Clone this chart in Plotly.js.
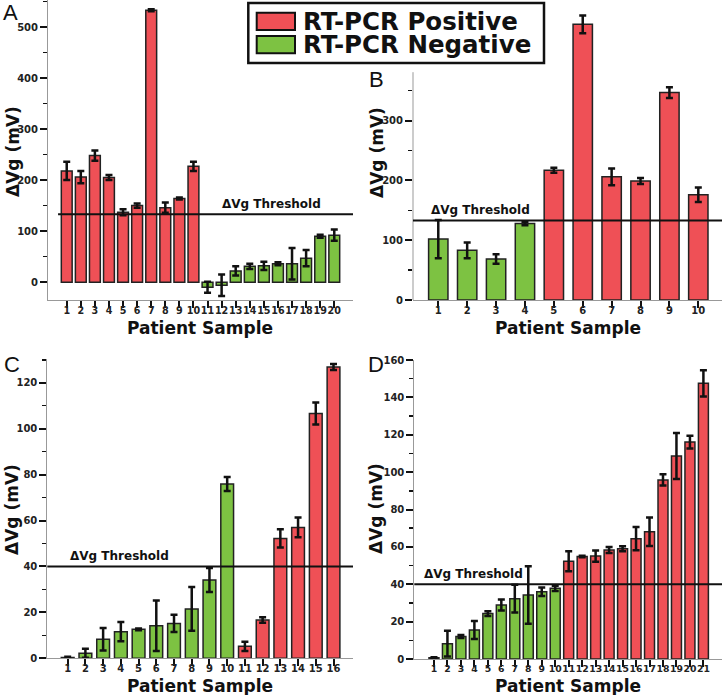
<!DOCTYPE html>
<html><head><meta charset="utf-8">
<script src="https://cdn.plot.ly/plotly-3.0.1.min.js"></script>
<style>html,body{margin:0;padding:0;background:#fff}</style>
</head><body><div id="chart" style="width:722px;height:695px"></div>
<script>
// ---------- data ----------
const groupNames = ['RT-PCR Positive', 'RT-PCR Negative'];
const groupColors = ['#EF5056', '#7DC242'];

const samplesA = [1,2,3,4,5,6,7,8,9,10,11,12,13,14,15,16,17,18,19,20];
const valuesA  = [218,206,248,205,137,150,533,146,164,227,-10,-6,22,31,32,36,36,47,90,92];
const errorsA  = [18,12,10,5,6,4,2,10,2,9,11,21,9,5,8,3,31,16,3,11];
const groupA   = [0,0,0,0,0,0,0,0,0,0,1,1,1,1,1,1,1,1,1,1];
const thresholdA = 133;

const samplesB = [1,2,3,4,5,6,7,8,9,10];
const valuesB  = [102,83,68.5,128,217,461,206,199,347,176];
const errorsB  = [32,13,8,3,4,15,14,5,9,12];
const groupB   = [1,1,1,1,0,0,0,0,0,0];
const thresholdB = 133;

const samplesC = [1,2,3,4,5,6,7,8,9,10,11,12,13,14,15,16];
const valuesC  = [0.4,2.2,8.3,11.6,12.6,14.2,15.2,21.5,34.1,75.9,5.2,16.7,52.2,57,106.6,126.8];
const errorsC  = [0.3,2,4.9,4.2,0.4,11,3.8,9.5,5.2,3,2,1.2,4,4.3,4.8,1.3];
const groupC   = [1,1,1,1,1,1,1,1,1,1,0,0,0,0,0,0];
const thresholdC = 40;

const samplesD = [1,2,3,4,5,6,7,8,9,10,11,12,13,14,15,16,17,18,19,20,21];
const valuesD  = [0.7,8.2,12.1,15.5,24.3,28.9,32.3,34.2,36,37.8,52.3,54.8,55.1,58.3,59,64.4,68.1,95.8,108.6,116.1,147.5];
const errorsD  = [0.3,6.9,0.8,4.8,1.3,3,7.4,15.4,2.3,1.4,5.3,0.4,3,1.6,1.3,6.2,7.6,3,12.3,3.4,7];
const groupD   = [1,1,1,1,1,1,1,1,1,1,0,0,0,0,0,0,0,0,0,0,0];
const thresholdD = 40;

const yTicksA = [0,100,200,300,400,500], yMinorA = [50,150,250,350,450,550];
const yTicksB = [0,100,200,300],         yMinorB = [50,150,250,350];
const yTicksC = [0,20,40,60,80,100,120], yMinorC = [10,30,50,70,90,110,130];
const yTicksD = [0,20,40,60,80,100,120,140,160], yMinorD = [10,30,50,70,90,110,130,150];

const thresholdLabel = 'ΔVg Threshold';
const yTitle = 'ΔVg (mV)';
const xTitle = 'Patient Sample';
const panelLetters = ['A','B','C','D'];

// ---------- styling ----------
const W = 722, H = 695;
const FONT = 'DejaVu Sans, Verdana, sans-serif';
const px = v => v / W;
const py = v => 1 - v / H;

function barTrace(x, y, e, g, xa, ya, width) {
  return {
    type: 'bar', x: x, y: y, xaxis: xa, yaxis: ya, width: width,
    marker: {color: g.map(i => groupColors[i]), line: {color: '#222', width: 1.5}},
    error_y: {type: 'data', array: e, visible: true, color: '#111', thickness: 2.5, width: 3.5},
    showlegend: false, hoverinfo: 'skip'
  };
}

const traces = [
  barTrace(samplesA, valuesA, errorsA, groupA, 'x', 'y', 0.77),
  barTrace(samplesB, valuesB, errorsB, groupB, 'x2', 'y2', 0.67),
  barTrace(samplesC, valuesC, errorsC, groupC, 'x3', 'y3', 0.72),
  barTrace(samplesD, valuesD, errorsD, groupD, 'x4', 'y4', 0.74)
];

function tickFont(sz) { return {family: FONT, size: sz, color: '#222', weight: 'bold'}; }
function xAxis(dom, range, samples, anchor, sz) {
  return {domain: dom, range: range, anchor: anchor, tickmode: 'array', tickvals: samples,
    ticktext: samples.map(String), tickangle: 0, ticks: 'outside', ticklen: 7, tickwidth: 2,
    tickcolor: '#111', showline: true, linecolor: '#999', linewidth: 1, showgrid: false,
    zeroline: false, tickfont: tickFont(sz), ticklabelstandoff: -6, fixedrange: true};
}
function yAxis(dom, range, tv, mv, anchor, line) {
  return {domain: dom, range: range, anchor: anchor, tickmode: 'array', tickvals: tv,
    ticktext: tv.map(String), ticks: 'outside', ticklen: 7, tickwidth: 2, tickcolor: '#111',
    minor: {tickmode: 'array', tickvals: mv, ticks: 'outside', ticklen: 4, tickwidth: 1.5, tickcolor: '#111', showgrid: false},
    showline: line, linecolor: '#999', linewidth: 1, showgrid: false, zeroline: false,
    tickfont: tickFont(10), fixedrange: true};
}

const layout = {
  width: W, height: H, margin: {l: 0, r: 0, t: 0, b: 0},
  paper_bgcolor: '#fff', plot_bgcolor: 'rgba(0,0,0,0)', showlegend: false,
  barmode: 'overlay', hovermode: false,
  xaxis:  xAxis([px(48), px(353)], [-0.33, 21.33], samplesA, 'y', 9.6),
  yaxis:  yAxis([py(300), 1], [-35, 553], yTicksA, yMinorA, 'x', true),
  xaxis2: xAxis([px(413), 1], [0.125, 10.82], samplesB, 'y2', 10),
  yaxis2: yAxis([py(300), py(10)], [0, 485], yTicksB, yMinorB, 'x2', false),
  xaxis3: xAxis([px(47.3), px(353)], [-0.15, 17.1], samplesC, 'y3', 10),
  yaxis3: yAxis([py(658.3), py(359.3)], [0, 130.2], yTicksC, yMinorC, 'x3', true),
  xaxis4: xAxis([px(414.3), 1], [-0.46, 22.38], samplesD, 'y4', 9.3),
  yaxis4: yAxis([py(659), py(360)], [0, 160], yTicksD, yMinorD, 'x4', true),
  shapes: [], annotations: []
};

// B spine (trimmed)
layout.shapes.push({type: 'line', xref: 'x2 domain', yref: 'y2', x0: 0, x1: 0, y0: 0, y1: 381,
  line: {color: '#999', width: 1}});

// thresholds
const thr = [
  ['x', 'y', thresholdA, 0.033, 0.564],
  ['x2', 'y2', thresholdB, 0, 0.052],
  ['x3', 'y3', thresholdC, 0, 0.068],
  ['x4', 'y4', thresholdD, 0, 0.025]
];
thr.forEach(t => {
  layout.shapes.push({type: 'line', xref: t[0] + ' domain', yref: t[1], x0: t[3], x1: 1,
    y0: t[2], y1: t[2], line: {color: '#111', width: 2}});
  layout.annotations.push({text: thresholdLabel, xref: t[0] + ' domain', yref: t[1], x: t[4], y: t[2],
    xanchor: 'left', yanchor: 'bottom', yshift: 1, showarrow: false,
    font: {family: FONT, size: 12, color: '#111', weight: 'bold'}});
});

// axis titles
const titleFont = {family: FONT, size: 17, color: '#111', weight: 'bold'};
[[13, 152], [377, 153], [12, 510], [376, 509]].forEach(p => {
  layout.annotations.push({text: yTitle, xref: 'paper', yref: 'paper', x: px(p[0]), y: py(p[1]),
    xanchor: 'center', yanchor: 'middle', textangle: -90, showarrow: false, font: titleFont});
});
[[200, 328], [568, 328], [200, 686], [568, 686]].forEach(p => {
  layout.annotations.push({text: xTitle, xref: 'paper', yref: 'paper', x: px(p[0]), y: py(p[1]),
    xanchor: 'center', yanchor: 'middle', showarrow: false, font: titleFont});
});

// panel letters
[[1, 12], [367, 80], [2, 364], [366, 365]].forEach((p, i) => {
  layout.annotations.push({text: panelLetters[i], xref: 'paper', yref: 'paper', x: px(p[0]), y: py(p[1]),
    xanchor: 'left', yanchor: 'middle', showarrow: false,
    font: {family: 'Liberation Sans, Arial, sans-serif', size: 22, color: '#111'}});
});

// legend box
layout.shapes.push({type: 'rect', xref: 'paper', yref: 'paper', x0: px(248.3), x1: px(544),
  y0: py(63), y1: py(3), fillcolor: '#fff', line: {color: '#111', width: 2.5}, layer: 'above'});
[[12.7, 30, 21.7], [36, 53.3, 44.3]].forEach((r, i) => {
  layout.shapes.push({type: 'rect', xref: 'paper', yref: 'paper', x0: px(256.7), x1: px(295),
    y0: py(r[1]), y1: py(r[0]), fillcolor: groupColors[i], line: {color: '#111', width: 2}, layer: 'above'});
  layout.annotations.push({text: groupNames[i], xref: 'paper', yref: 'paper', x: px(301), y: py(r[2]),
    xanchor: 'left', yanchor: 'middle', showarrow: false,
    font: {family: FONT, size: 24.5, color: '#111', weight: 'bold'}});
});

Plotly.newPlot('chart', traces, layout, {staticPlot: true, displayModeBar: false});
</script></body></html>
